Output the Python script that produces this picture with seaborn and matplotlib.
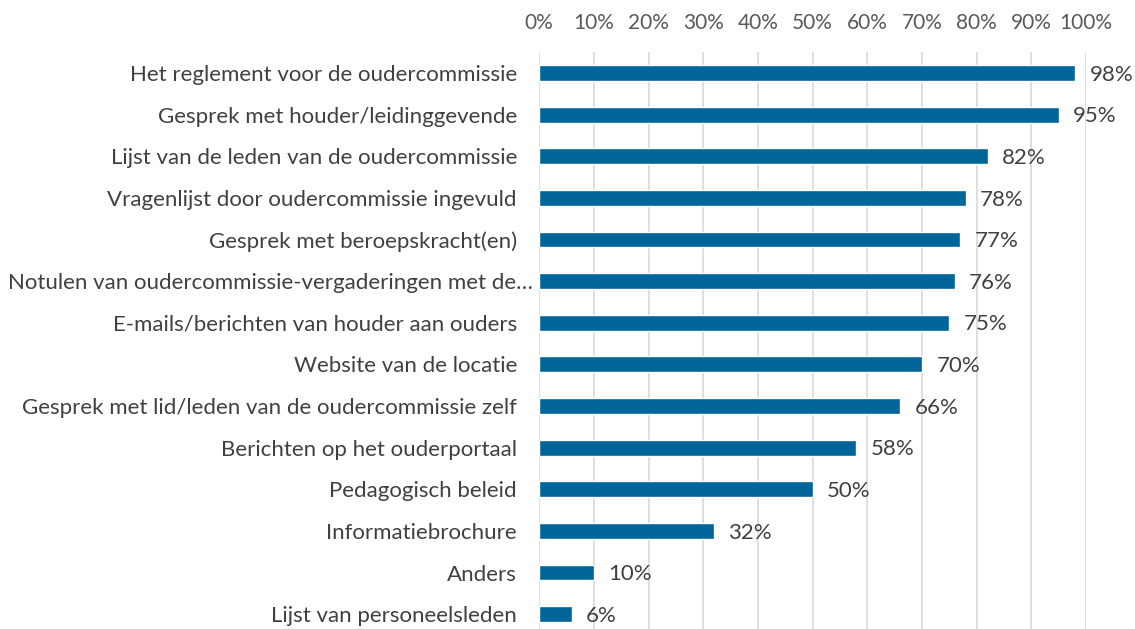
import numpy as np
import pandas as pd
import matplotlib
matplotlib.use("Agg")
import matplotlib.pyplot as plt
import matplotlib.transforms as mtransforms
import seaborn as sns

# data
categories = [
    "Het reglement voor de oudercommissie",
    "Gesprek met houder/leidinggevende",
    "Lijst van de leden van de oudercommissie",
    "Vragenlijst door oudercommissie ingevuld",
    "Gesprek met beroepskracht(en)",
    "Notulen van oudercommissie-vergaderingen met de…",
    "E-mails/berichten van houder aan ouders",
    "Website van de locatie",
    "Gesprek met lid/leden van de oudercommissie zelf",
    "Berichten op het ouderportaal",
    "Pedagogisch beleid",
    "Informatiebrochure",
    "Anders",
    "Lijst van personeelsleden",
]
percentages = [98, 95, 82, 78, 77, 76, 75, 70, 66, 58, 50, 32, 10, 6]
tick_values = list(range(0, 101, 10))

df = pd.DataFrame({"categorie": categories, "pct": percentages})

sns.set_style("white")
plt.rcParams["font.family"] = ["Lato", "DejaVu Sans"]

fig = plt.figure(figsize=(11.35, 6.29), dpi=100)
ax = fig.add_axes([0.475, -0.0095, 0.482, 0.9265])

sns.barplot(data=df, x="pct", y="categorie", color="#006699", width=0.38,
            saturation=1, ax=ax, orient="h")

ax.set_xlim(0, 100)
ax.set_ylim(len(categories) - 0.5, -0.5)
ax.xaxis.tick_top()
ax.set_xticks(tick_values)
ax.set_xticklabels([f"{v}%" for v in tick_values], fontsize=15, color="#595959")
ax.tick_params(axis="x", length=0, pad=14)
ax.tick_params(axis="y", length=0, pad=16, labelsize=16, labelcolor="#404040")
ax.set_xlabel("")
ax.set_ylabel("")
ax.grid(axis="x", color="#d9d9d9", linewidth=1.2)
ax.set_axisbelow(True)
for s in ax.spines.values():
    s.set_visible(False)

# the truncated label runs closer to the axis, as in the original
for lab in ax.get_yticklabels():
    if lab.get_text().endswith("…"):
        lab.set_transform(lab.get_transform() +
                          mtransforms.ScaledTranslation(11.5 / 72, 0, fig.dpi_scale_trans))

for i, v in enumerate(percentages):
    ax.text(v + 2.6, i + 0.04, f"{v}%", va="center", ha="left", fontsize=16, color="#404040")

fig.savefig("out.png", dpi=100)
